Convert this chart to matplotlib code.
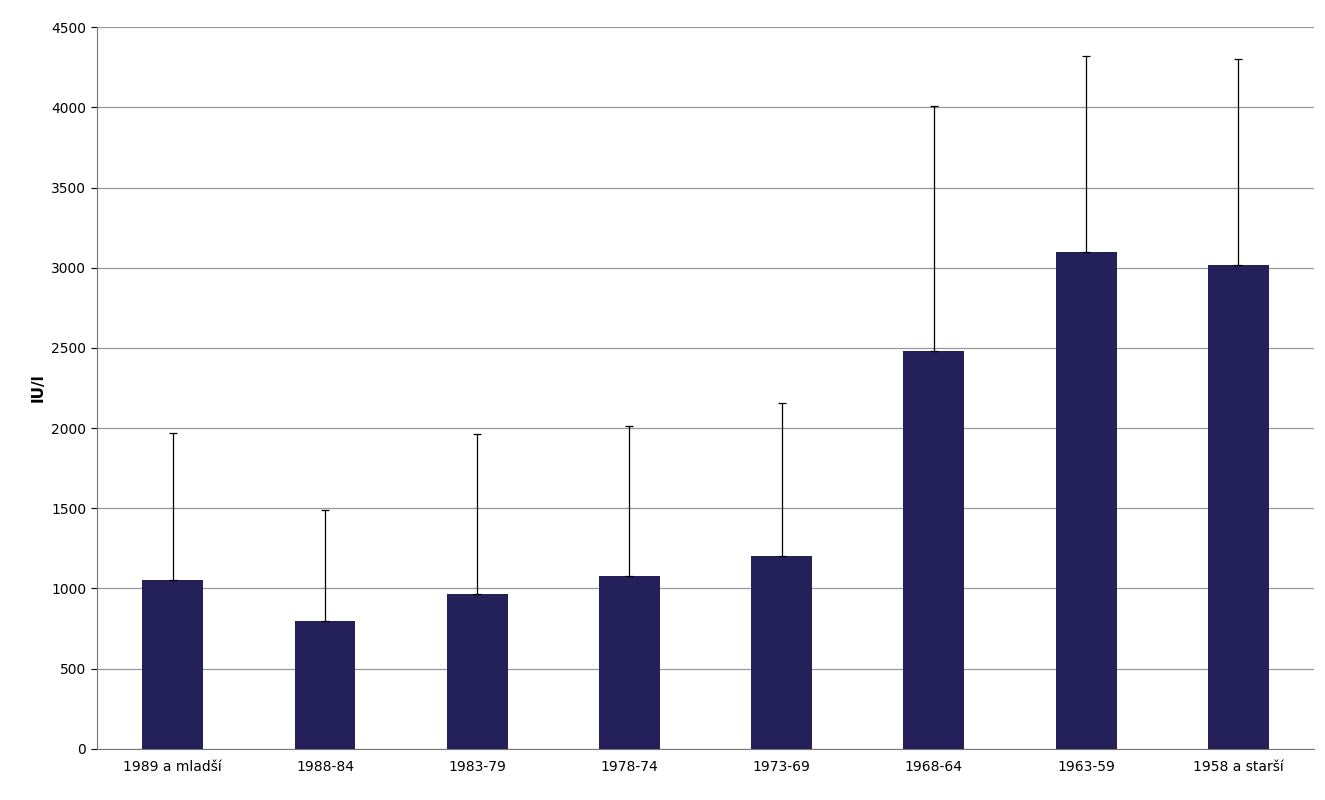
import matplotlib
matplotlib.use("Agg")
import matplotlib.pyplot as plt
import numpy as np

categories = ["1989 a mladší", "1988-84", "1983-79", "1978-74", "1973-69", "1968-64", "1963-59", "1958 a starší"]
means = [1050, 800, 965, 1080, 1200, 2480, 3095, 3015]
upper = [1970, 1490, 1965, 2015, 2155, 4010, 4320, 4300]

err = [u - m for u, m in zip(upper, means)]
fig = plt.figure(figsize=(13.25, 8), dpi=100)
ax = fig.add_axes([0.073, 0.064, 0.919, 0.902])
x = np.arange(len(categories))
ax.bar(x, means, width=0.4, color="#23205A", zorder=3)
ax.errorbar(x, means, yerr=[np.zeros(len(err)), err], fmt="none", ecolor="black",
            elinewidth=0.9, capsize=3, capthick=0.9, zorder=4)
ax.set_ylim(0, 4500)
ax.set_xlim(-0.5, len(categories) - 0.5)
ax.set_yticks(range(0, 4501, 500))
ax.yaxis.grid(True, color="#999999", linewidth=0.9, zorder=0)
ax.set_xticks(x)
ax.set_xticklabels(categories, fontsize=10)
ax.tick_params(axis="x", length=0, pad=8)
ax.tick_params(axis="y", labelsize=10, length=4)
for s in ["top", "right"]:
    ax.spines[s].set_visible(False)
ax.spines["left"].set_color("#777777")
ax.spines["bottom"].set_color("#777777")
ax.set_ylabel("IU/l", fontweight="bold", fontsize=11)
fig.savefig("out.png", dpi=100)
